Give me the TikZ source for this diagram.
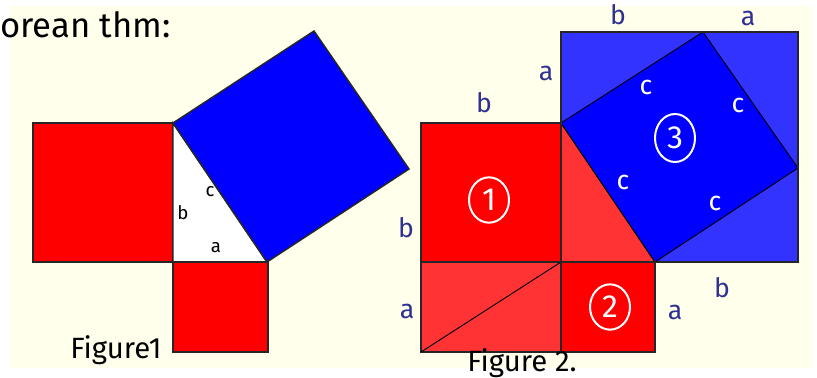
\documentclass[tikz,border=0pt]{standalone}
\usepackage{fontspec}
\setmainfont{Fira Sans}
\usetikzlibrary{shapes.geometric}
\definecolor{bgyellow}{RGB}{255,255,235}
\definecolor{redA}{RGB}{255,0,0}
\definecolor{redB}{RGB}{255,51,51}
\definecolor{blueA}{RGB}{0,0,255}
\definecolor{blueB}{RGB}{51,51,255}
\definecolor{ink}{RGB}{46,49,146}
\tikzset{
  piece/.style={draw=black!85, line width=1.1pt, line join=miter},
  thinline/.style={draw=black, line width=0.7pt},
  lblA/.style={font=\fontsize{14}{14}\selectfont, text=black, inner sep=0pt},
  lblB/.style={font=\fontsize{20}{20}\selectfont, text=ink, inner sep=0pt},
  lblC/.style={font=\fontsize{20}{20}\selectfont, text=white, inner sep=0pt},
  circnum/.style={ellipse, draw=white, line width=1.5pt, text=white, minimum width=30pt, minimum height=34pt, inner sep=0pt, font=\fontsize{24}{24}\selectfont},
  hand/.style={font=\fontsize{26}{26}\selectfont, text=black, inner sep=0pt, anchor=base west}
}
\begin{document}
\begin{tikzpicture}[x=0.75pt,y=-0.75pt]
\useasboundingbox (0,0) rectangle (817,378);
\fill[white] (0,0) rectangle (817,378);
\fill[bgyellow] (10,6) rectangle (813,368);

% ---------- Figure 1 ----------
\coordinate (fA) at (173,123);
\coordinate (fB) at (173,262);
\coordinate (fC) at (267,262);
\coordinate (fD) at (409,169);
\coordinate (fE) at (314,31);
\filldraw[piece, fill=redA] (33,123) rectangle (fB);
\filldraw[piece, fill=white] (fA) -- (fB) -- (fC) -- cycle;
\filldraw[piece, fill=redA] (fB) rectangle (268,352);
\filldraw[piece, fill=blueA] (fA) -- (fC) -- (fD) -- (fE) -- cycle;
\node[lblA] (f1b) at (183,213) {b};
\node[lblA] (f1c) at (210,192) {c};
\node[lblA] (f1a) at (216,248) {a};

% ---------- Figure 2 ----------
\coordinate (gP) at (561,123);
\coordinate (gQ) at (561,262);
\coordinate (gR) at (655,262);
\coordinate (gS) at (798,168);
\coordinate (gT) at (703,32);
\coordinate (gBL) at (421,352);
\filldraw[piece, fill=blueB] (561,32) rectangle (798,262);
\filldraw[piece, fill=redA] (421,123) rectangle (gQ);
\filldraw[thinline, fill=redB] (gP) -- (gQ) -- (gR) -- cycle;
\filldraw[thinline, fill=blueA] (gP) -- (gR) -- (gS) -- (gT) -- cycle;
\filldraw[piece, fill=redB] (421,262) rectangle (561,352);
\draw[thinline] (gBL) -- (gQ);
\filldraw[piece, fill=redA] (gQ) rectangle (655,352);
\draw[piece] (561,32) rectangle (798,262);
\draw[piece] (gQ) -- (gR);
\draw[piece] (gP) -- (gQ);

\node[circnum] (n1) at (489,200) {1};
\node[circnum] (n2) at (610,307) {2};
\node[circnum, minimum height=36pt] (n3) at (675,138) {3};

\node[lblC] (c1) at (646,87) {c};
\node[lblC] (c2) at (738,105) {c};
\node[lblC] (c3) at (623,182) {c};
\node[lblC] (c4) at (715,203) {c};

\node[lblB] (l1) at (484,103) {b};
\node[lblB] (l2) at (406,228) {b};
\node[lblB] (l3) at (407,311) {a};
\node[lblB] (l4) at (546,73) {a};
\node[lblB] (l5) at (618,15) {b};
\node[lblB] (l6) at (748,18) {a};
\node[lblB] (l7) at (722,288) {b};
\node[lblB] (l8) at (675,312) {a};

% ---------- handwritten text ----------
\node[hand] (title) at (0,38) {orean thm:};
\node[hand, font=\fontsize{22}{22}\selectfont] (fig1) at (70,358) {Figure1};
\node[hand, font=\fontsize{22}{22}\selectfont] (fig2) at (467,371) {Figure 2.};
\end{tikzpicture}
\end{document}
